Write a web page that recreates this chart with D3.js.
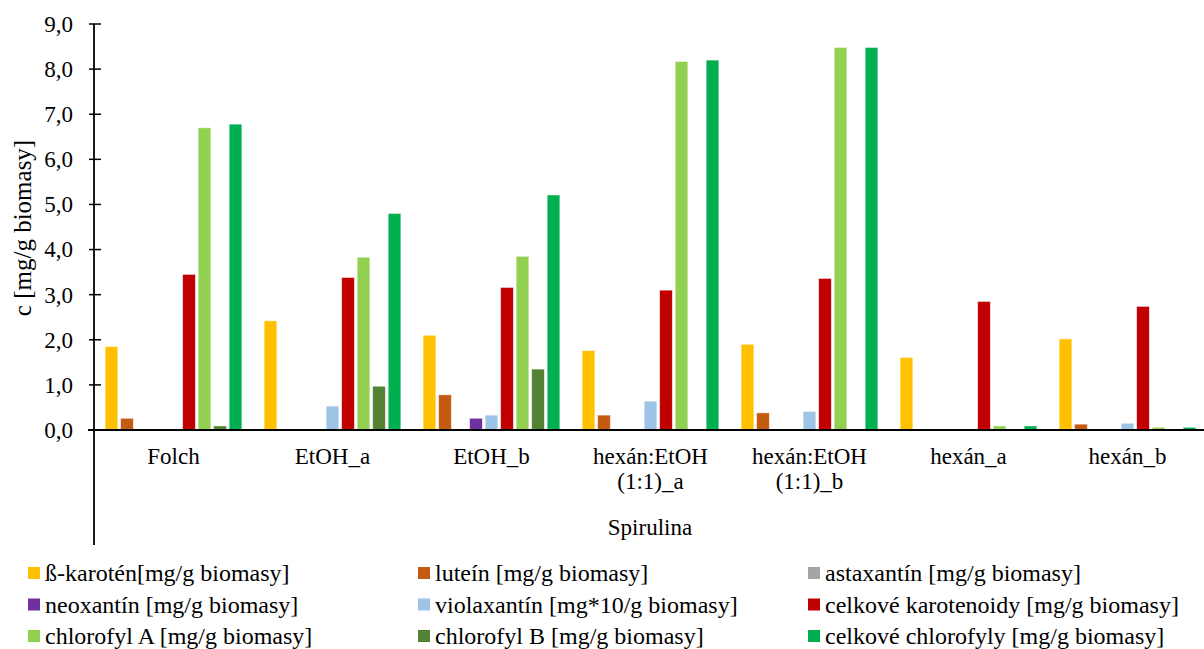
<!DOCTYPE html>
<html>
<head>
<meta charset="utf-8">
<script src="https://cdn.jsdelivr.net/npm/d3@7"></script>
<style>
  body { margin: 0; background: #fff; }
</style>
</head>
<body>
<div id="chart"></div>
<script>
var FONT = "'Liberation Serif', 'DejaVu Serif', 'Noto Serif', 'Times New Roman', Times, serif";

// categories (two-line labels)
var categories = ["Folch", "EtOH_a", "EtOH_b", "hexán:EtOH (1:1)_a", "hexán:EtOH (1:1)_b", "hexán_a", "hexán_b"];
var catLines = [["Folch"], ["EtOH_a"], ["EtOH_b"], ["hexán:EtOH", "(1:1)_a"], ["hexán:EtOH", "(1:1)_b"], ["hexán_a"], ["hexán_b"]];

var seriesNames = [
  "ß-karotén[mg/g biomasy]",
  "luteín [mg/g biomasy]",
  "astaxantín [mg/g biomasy]",
  "neoxantín [mg/g biomasy]",
  "violaxantín [mg*10/g biomasy]",
  "celkové karotenoidy [mg/g biomasy]",
  "chlorofyl A [mg/g biomasy]",
  "chlorofyl B [mg/g biomasy]",
  "celkové chlorofyly [mg/g biomasy]"
];
var colors = ["#FFC000", "#C55A11", "#A5A5A5", "#7030A0", "#9DC3E6", "#C00000", "#92D050", "#548235", "#00B050"];

// values per series, one per category
var betaKaroten   = [1.85, 2.42, 2.10, 1.76, 1.90, 1.61, 2.02];
var lutein        = [0.26, 0.00, 0.78, 0.33, 0.38, 0.00, 0.13];
var astaxantin    = [0.01, 0.00, 0.00, 0.00, 0.00, 0.00, 0.00];
var neoxantin     = [0.00, 0.00, 0.26, 0.00, 0.00, 0.00, 0.00];
var violaxantin   = [0.00, 0.53, 0.33, 0.64, 0.41, 0.00, 0.15];
var celkKaroten   = [3.45, 3.38, 3.16, 3.10, 3.36, 2.85, 2.74];
var chlorofylA    = [6.70, 3.83, 3.85, 8.17, 8.48, 0.09, 0.06];
var chlorofylB    = [0.09, 0.97, 1.35, 0.01, 0.00, 0.00, 0.00];
var celkChlorofyl = [6.78, 4.80, 5.21, 8.20, 8.48, 0.09, 0.06];

var seriesValues = [betaKaroten, lutein, astaxantin, neoxantin, violaxantin, celkKaroten, chlorofylA, chlorofylB, celkChlorofyl];
var yTicks = [0, 1, 2, 3, 4, 5, 6, 7, 8, 9];

var W = 1204, H = 649;
var margin = {top: 24, left: 94};
var width = 1113, height = 406;

var svg = d3.select("#chart").append("svg")
  .attr("width", W).attr("height", H)
  .attr("font-family", FONT);

var g = svg.append("g")
  .attr("transform", "translate(" + margin.left + "," + margin.top + ")");

var x0 = d3.scaleBand().domain(categories).range([0, width])
  .paddingInner(0.14).paddingOuter(0.07);
var x1 = d3.scaleBand().domain(d3.range(seriesNames.length))
  .range([0, x0.bandwidth()]).paddingInner(0.18);
var y = d3.scaleLinear().domain([0, 9]).range([height, 0]);

// bars
categories.forEach(function(c, ci) {
  var grp = g.append("g").attr("transform", "translate(" + x0(c) + ",0)");
  seriesValues.forEach(function(vals, si) {
    var v = vals[ci];
    if (v <= 0) return;
    grp.append("rect")
      .attr("x", x1(si))
      .attr("y", y(v))
      .attr("width", x1.bandwidth())
      .attr("height", height - y(v))
      .attr("fill", colors[si])
      .attr("stroke", "#fff")
      .attr("stroke-opacity", 0.6)
      .attr("stroke-width", 0.8);
  });
});

// y axis
var yAxis = d3.axisLeft(y).tickValues(yTicks).tickSize(0).tickPadding(21)
  .tickFormat(function(d) { return d3.format(".1f")(d).replace(".", ","); });
var ya = g.append("g").call(yAxis);
ya.attr("font-family", FONT).attr("font-size", 23);
ya.select(".domain").remove();
ya.selectAll("text").attr("fill", "#000");

g.selectAll(".ytick").data(yTicks).enter().append("line")
  .attr("x1", -5).attr("x2", 7)
  .attr("y1", function(d) { return y(d); }).attr("y2", function(d) { return y(d); })
  .attr("stroke", "#000").attr("stroke-width", 1.5);

// axis lines
g.append("line").attr("x1", 0).attr("x2", 0).attr("y1", 0).attr("y2", 521)
  .attr("stroke", "#000").attr("stroke-width", 1.8);
g.append("line").attr("x1", -6).attr("x2", width).attr("y1", height).attr("y2", height)
  .attr("stroke", "#000").attr("stroke-width", 1.8);

// category labels
categories.forEach(function(c, ci) {
  var t = g.append("text")
    .attr("text-anchor", "middle")
    .attr("x", x0(c) + x0.bandwidth() / 2)
    .attr("y", 440)
    .attr("font-size", 23);
  catLines[ci].forEach(function(line, li) {
    t.append("tspan").attr("x", x0(c) + x0.bandwidth() / 2)
      .attr("dy", li === 0 ? 0 : 25).text(line);
  });
});

// x axis title
svg.append("text").attr("text-anchor", "middle")
  .attr("x", 650).attr("y", 535)
  .attr("font-size", 23).text("Spirulina");

// y axis title
svg.append("text").attr("text-anchor", "middle")
  .attr("transform", "translate(31,228) rotate(-90)")
  .attr("font-size", 25).text("c [mg/g biomasy]");

// legend
var leg = svg.append("g");
seriesNames.forEach(function(name, i) {
  var col = i % 3, row = Math.floor(i / 3);
  var lx = 28 + col * 390, ly = 573 + row * 31.5;
  leg.append("rect").attr("x", lx).attr("y", ly - 6).attr("width", 12).attr("height", 12)
    .attr("fill", colors[i]);
  leg.append("text").attr("x", lx + 17).attr("y", ly + 8)
    .attr("font-size", 24).text(name);
});
</script>
</body>
</html>
